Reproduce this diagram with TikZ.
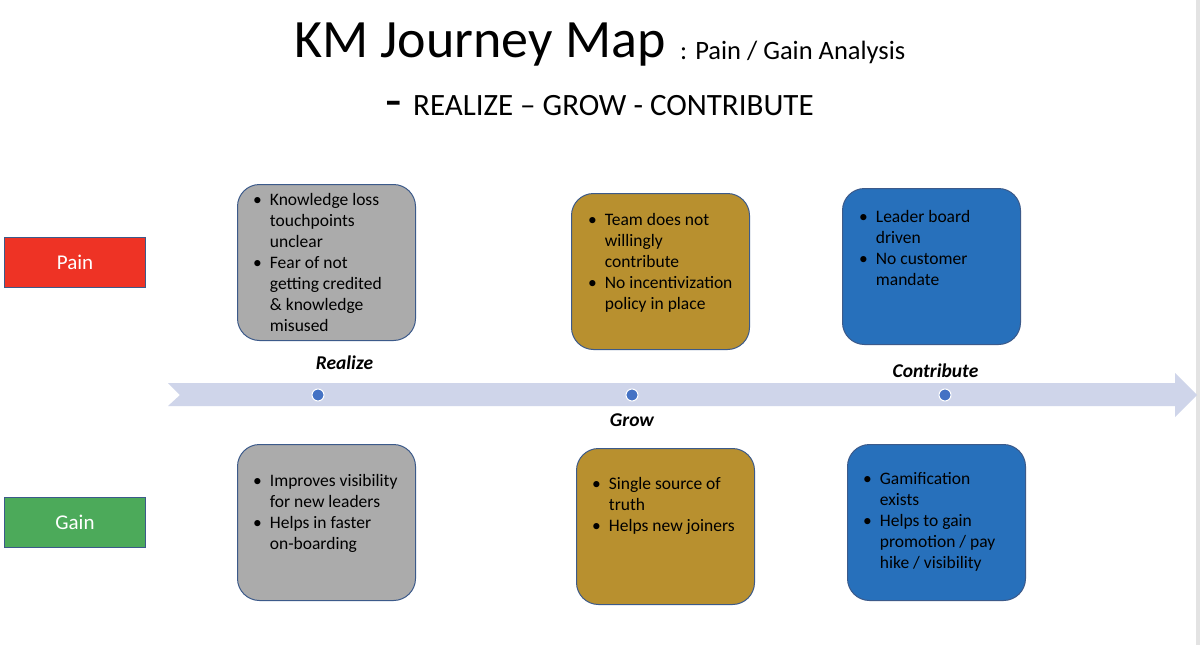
\documentclass[tikz,border=0pt]{standalone}
\usepackage{fontspec}
\setmainfont{Carlito}
\usetikzlibrary{positioning}
\definecolor{ink}{HTML}{000000}
\definecolor{edge}{HTML}{3C5A8A}
\definecolor{stone}{HTML}{ABABAB}
\definecolor{ochre}{HTML}{B8902F}
\definecolor{deepblue}{HTML}{2770BB}
\definecolor{painred}{HTML}{EE3325}
\definecolor{gaingreen}{HTML}{4CAA5A}
\definecolor{band}{HTML}{CFD5EA}
\definecolor{dotblue}{HTML}{4472C4}
\definecolor{rim}{HTML}{E3E3E3}
\tikzset{
  every node/.style={font=\fontsize{17.5}{21}\selectfont, text=ink},
  card/.style={draw=edge, line width=1pt, rounded corners=22pt, minimum width=178pt, minimum height=156pt, anchor=north west, inner sep=0pt},
  greycard/.style={card, fill=stone},
  ochrecard/.style={card, fill=ochre},
  bluecard/.style={card, fill=deepblue},
  bullets/.style={inner sep=0pt, align=left},
  lanebox/.style={draw=edge, line width=1pt, minimum width=141pt, minimum height=50pt, anchor=north west, text=white, font=\fontsize{21}{25}\selectfont},
  stagelabel/.style={inner sep=0pt, font=\fontsize{19.5}{23}\selectfont\bfseries\itshape},
  milestone/.style={circle, fill=dotblue, draw=white, line width=1pt, minimum size=12pt, inner sep=0pt},
}
\newcommand{\blist}[1]{\begin{tabular}{@{}l@{\hspace{8pt}}l@{}}#1\end{tabular}}

\begin{document}
\begin{tikzpicture}[x=1pt, y=-1pt]
\useasboundingbox (0,0) rectangle (1200,645);
\fill[white] (0,0) rectangle (1200,645);
\fill[rim] (1196,0) rectangle (1200,645);
% heading
\node[anchor=base west, inner sep=0pt, font=\fontsize{54}{60}\selectfont] (title) at (294,57) {KM Journey Map};
\node[anchor=base west, inner sep=0pt, font=\fontsize{26.5}{30}\selectfont] (sub) at (680,59) {: Pain / Gain Analysis};
\node[anchor=base west, inner sep=0pt, font=\fontsize{54}{60}\selectfont] (dash) at (385,118) {-};
\node[anchor=base west, inner sep=0pt, font=\fontsize{31}{36}\selectfont] (phases) at (413,115) {REALIZE – GROW - CONTRIBUTE};
% lanes
\node[lanebox, fill=painred] (pain) at (4,237) {Pain};
\node[lanebox, fill=gaingreen] (gain) at (4,497) {Gain};
% timeline band
\fill[band] (168,383) -- (1175,383) -- (1175,373) -- (1197,395) -- (1175,417) -- (1175,406) -- (168,406) -- (180,395) -- cycle;
\node[milestone] (d1) at (318,395) {};
\node[milestone] (d2) at (632,395) {};
\node[milestone] (d3) at (945,395) {};
\node[stagelabel, above=19pt of d1, xshift=26.5pt] (realize) {Realize};
\node[stagelabel, below=12pt of d2] (grow) {Grow};
\node[stagelabel, above=11pt of d3, xshift=-9.5pt] (contribute) {Contribute};
% pain cards
\node[greycard] (rp) at (237,184) {};
\node[ochrecard] (gp) at (571,193) {};
\node[bluecard] (cp) at (842,188) {};
\node[bullets, below right=7pt and 16pt of rp.north west] (rptext) {\blist{\textbullet & Knowledge loss\\ & touchpoints\\ & unclear\\ \textbullet & Fear of not\\ & getting credited\\ & \& knowledge\\ & misused}};
\node[bullets, below right=18pt and 17pt of gp.north west] (gptext) {\blist{\textbullet & Team does not\\ & willingly\\ & contribute\\ \textbullet & No incentivization\\ & policy in place}};
\node[bullets, below right=20pt and 17pt of cp.north west] (cptext) {\blist{\textbullet & Leader board\\ & driven\\ \textbullet & No customer\\ & mandate}};
% gain cards
\node[greycard] (rg) at (237,444) {};
\node[ochrecard] (gg) at (576,448) {};
\node[bluecard] (cg) at (847,444) {};
\node[bullets, below right=28pt and 16pt of rg.north west] (rgtext) {\blist{\textbullet & Improves visibility\\ & for new leaders\\ \textbullet & Helps in faster\\ & on-boarding}};
\node[bullets, below right=27pt and 16pt of gg.north west] (ggtext) {\blist{\textbullet & Single source of\\ & truth\\ \textbullet & Helps new joiners}};
\node[bullets, below right=26pt and 16pt of cg.north west] (cgtext) {\blist{\textbullet & Gamification\\ & exists\\ \textbullet & Helps to gain\\ & promotion / pay\\ & hike / visibility}};
\end{tikzpicture}
\end{document}
